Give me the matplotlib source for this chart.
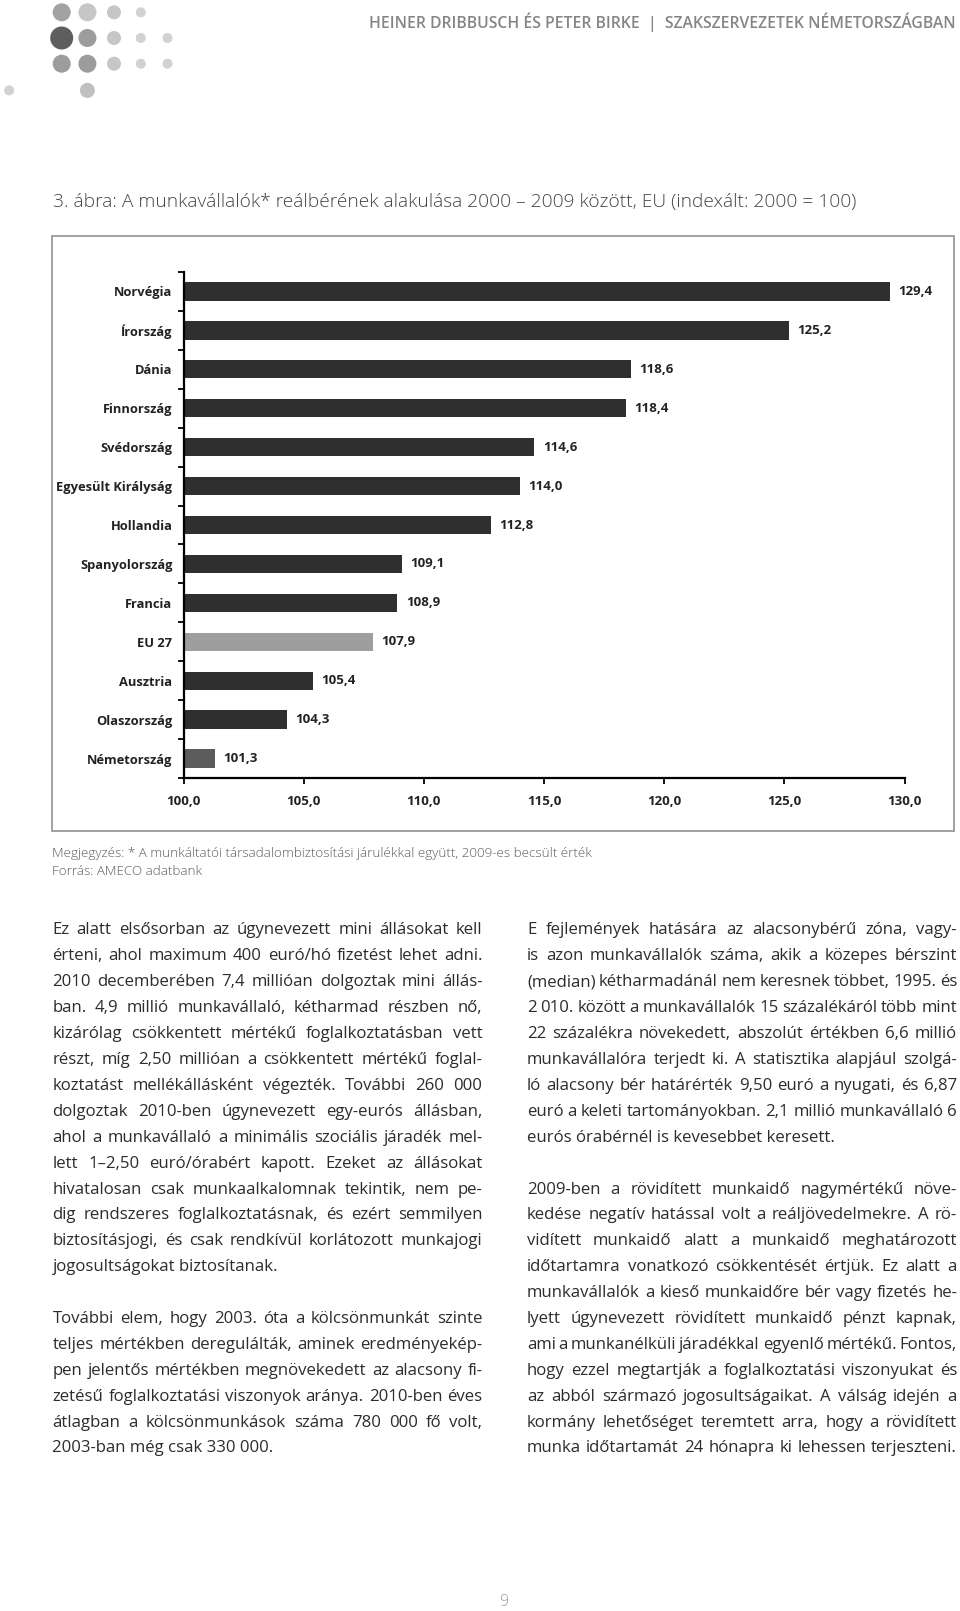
import matplotlib.pyplot as plt
import numpy as np
from matplotlib.patches import Rectangle, Circle

W, H = 960, 1611

countries = ['Norvégia', 'Írország', 'Dánia', 'Finnország', 'Svédország', 'Egyesült Királyság',
             'Hollandia', 'Spanyolország', 'Francia', 'EU 27', 'Ausztria', 'Olaszország', 'Németország']
values = [129.4, 125.2, 118.6, 118.4, 114.6, 114.0, 112.8, 109.1, 108.9, 107.9, 105.4, 104.3, 101.3]
bar_colors = ['#2f2f2f'] * 9 + ['#9e9e9e', '#2f2f2f', '#2f2f2f', '#5c5c5c']
xticks = [100, 105, 110, 115, 120, 125, 130]

header = 'HEINER DRIBBUSCH ÉS PETER BIRKE  |  SZAKSZERVEZETEK NÉMETORSZÁGBAN'
title = '3. ábra: A munkavállalók* reálbérének alakulása 2000 – 2009 között, EU (indexált: 2000 = 100)'
note1 = 'Megjegyzés: * A munkáltatói társadalombiztosítási járulékkal együtt, 2009-es becsült érték'
note2 = 'Forrás: AMECO adatbank'

left_col = [
    'Ez alatt elsősorban az úgynevezett mini állásokat kell',
    'érteni, ahol maximum 400 euró/hó fizetést lehet adni.',
    '2010 decemberében 7,4 millióan dolgoztak mini állás-',
    'ban. 4,9 millió munkavállaló, kétharmad részben nő,',
    'kizárólag csökkentett mértékű foglalkoztatásban vett',
    'részt, míg 2,50 millióan a csökkentett mértékű foglal-',
    'koztatást mellékállásként végezték. További 260 000',
    'dolgoztak 2010-ben úgynevezett egy-eurós állásban,',
    'ahol a munkavállaló a minimális szociális járadék mel-',
    'lett 1–2,50 euró/órabért kapott. Ezeket az állásokat',
    'hivatalosan csak munkaalkalomnak tekintik, nem pe-',
    'dig rendszeres foglalkoztatásnak, és ezért semmilyen',
    'biztosításjogi, és csak rendkívül korlátozott munkajogi',
    'jogosultságokat biztosítanak.|',
    '',
    'További elem, hogy 2003. óta a kölcsönmunkát szinte',
    'teljes mértékben deregulálták, aminek eredményekép-',
    'pen jelentős mértékben megnövekedett az alacsony fi-',
    'zetésű foglalkoztatási viszonyok aránya. 2010-ben éves',
    'átlagban a kölcsönmunkások száma 780 000 fő volt,',
    '2003-ban még csak 330 000.|',
]
right_col = [
    'E fejlemények hatására az alacsonybérű zóna, vagy-',
    'is azon munkavállalók száma, akik a közepes bérszint',
    '(median) kétharmadánál nem keresnek többet, 1995. és',
    '2 010. között a munkavállalók 15 százalékáról több mint',
    '22 százalékra növekedett, abszolút értékben 6,6 millió',
    'munkavállalóra terjedt ki. A statisztika alapjául szolgá-',
    'ló alacsony bér határérték 9,50 euró a nyugati, és 6,87',
    'euró a keleti tartományokban. 2,1 millió munkavállaló 6',
    'eurós órabérnél is kevesebbet keresett.|',
    '',
    '2009-ben a rövidített munkaidő nagymértékű növe-',
    'kedése negatív hatással volt a reáljövedelmekre. A rö-',
    'vidített munkaidő alatt a munkaidő meghatározott',
    'időtartamra vonatkozó csökkentését értjük. Ez alatt a',
    'munkavállalók a kieső munkaidőre bér vagy fizetés he-',
    'lyett úgynevezett rövidített munkaidő pénzt kapnak,',
    'ami a munkanélküli járadékkal egyenlő mértékű. Fontos,',
    'hogy ezzel megtartják a foglalkoztatási viszonyukat és',
    'az abból származó jogosultságaikat. A válság idején a',
    'kormány lehetőséget teremtett arra, hogy a rövidített',
    'munka időtartamát 24 hónapra ki lehessen terjeszteni.',
]

FONT = ['Open Sans', 'DejaVu Sans']
plt.rcParams['font.family'] = FONT

fig = plt.figure(figsize=(W / 100, H / 100), dpi=100)
renderer = fig.canvas.get_renderer()

# page overlay in pixel coordinates
bg = fig.add_axes([0, 0, 1, 1])
bg.set_xlim(0, W)
bg.set_ylim(H, 0)
bg.axis('off')

# logo dots
dots = [
    (61.7, 12.3, 18, '#a2a2a2'), (87.4, 12.3, 18, '#c6c6c6'), (114, 12.3, 14, '#c6c6c6'), (140.8, 12.3, 10, '#d2d2d2'),
    (61.7, 38, 23, '#5e5e5e'), (87.4, 38, 18, '#9c9c9c'), (114, 38, 14, '#c6c6c6'), (140.8, 38, 10, '#d2d2d2'), (167.5, 38, 10, '#d2d2d2'),
    (61.7, 63.7, 18, '#9c9c9c'), (87.4, 63.7, 18, '#9c9c9c'), (114, 63.7, 14, '#c6c6c6'), (140.8, 63.7, 10, '#d2d2d2'), (167.5, 63.7, 10, '#d2d2d2'),
    (9.2, 90.4, 10, '#d2d2d2'), (87.4, 90.4, 15, '#c0c0c0'),
]
for x, y, d, c in dots:
    bg.add_patch(Circle((x, y), d / 2, color=c, lw=0))


def fit(t, width):
    w = t.get_window_extent(renderer).width
    t.set_fontsize(t.get_fontsize() * width / w)


t = bg.text(956, 22, header, ha='right', va='center', color='#858585', fontsize=11, fontweight='semibold')
fit(t, 582)
t = bg.text(53, 202.5, title, ha='left', va='center', color='#444444', fontsize=12, fontweight='light')
fit(t, 799)
t = bg.text(52.4, 854, note1, ha='left', va='center', color='#5a5a5a', fontsize=8, fontweight='light')
fit(t, 540)
bg.text(52.4, 871.5, note2, ha='left', va='center', color='#5a5a5a', fontsize=t.get_fontsize(), fontweight='light')
bg.text(503.6, 1602, '9', ha='center', va='center', color='#9a9a9a', fontsize=11.5, fontweight='light')

# chart frame
bg.add_patch(Rectangle((52.3, 236), 954 - 52.3, 831 - 236, fill=False, ec='#9a9a9a', lw=1.3))

# bar chart
ax = fig.add_axes([183.5 / W, 1 - 778 / H, 721 / W, 506 / H])
ax.set_facecolor('none')
ypos = np.arange(len(countries))
ax.barh(ypos, [v - 100 for v in values], left=100, height=0.47, color=bar_colors)
ax.set_xlim(100, 130)
ax.set_ylim(len(countries) - 0.5, -0.5)
for sp in ['top', 'right']:
    ax.spines[sp].set_visible(False)
for sp in ['left', 'bottom']:
    ax.spines[sp].set_linewidth(1.6)
ax.set_xticks(xticks)
ax.set_xticklabels([f'{v:.1f}'.replace('.', ',') for v in xticks], fontweight='bold', fontsize=9.5, color='#222')
ax.tick_params(axis='x', length=4, width=1.3, pad=8)
ax.set_yticks(np.arange(-0.5, len(countries), 1))
ax.set_yticklabels([])
ax.tick_params(axis='y', which='major', length=4, width=1.3)
ax.set_yticks(ypos, minor=True)
ax.set_yticklabels(countries, minor=True, fontweight='bold', fontsize=9.3, color='#222')
ax.tick_params(axis='y', which='minor', length=0, pad=8)
for i, v in enumerate(values):
    ax.annotate(f'{v:.1f}'.replace('.', ','), (v, i), xytext=(6, 0), textcoords='offset points',
                va='center', ha='left', fontweight='bold', fontsize=9.5, color='#222')

# justified body text
BODY_COLOR = '#2c2c2c'


def width_of(s, fs):
    tt = bg.text(0, 0, s, fontsize=fs)
    w = tt.get_window_extent(renderer).width
    tt.remove()
    return w


fs0 = 12
space0 = width_of('a a', fs0) - width_of('aa', fs0)
colw = 430
ratios = []
for line in left_col + right_col:
    if not line or line.endswith('|'):
        continue
    words = line.split(' ')
    nat = sum(width_of(w, fs0) for w in words) + 0.75 * space0 * (len(words) - 1)
    ratios.append(colw / nat)
body_fs = fs0 * min(ratios)


def draw_column(lines, x0):
    for k, line in enumerate(lines):
        if not line:
            continue
        yb = 934.5 + k * 25.9
        last = line.endswith('|')
        words = line.rstrip('|').split(' ')
        widths = [width_of(w, body_fs) for w in words]
        if last or len(words) == 1:
            bg.text(x0, yb, line.rstrip('|'), fontsize=body_fs, color=BODY_COLOR, va='baseline', ha='left')
            continue
        gap = (colw - sum(widths)) / (len(words) - 1)
        x = x0
        for w, wd in zip(words, widths):
            bg.text(x, yb, w, fontsize=body_fs, color=BODY_COLOR, va='baseline', ha='left')
            x += wd + gap


draw_column(left_col, 52.4)
draw_column(right_col, 527)

fig.savefig('out.png', dpi=100, facecolor='white')
